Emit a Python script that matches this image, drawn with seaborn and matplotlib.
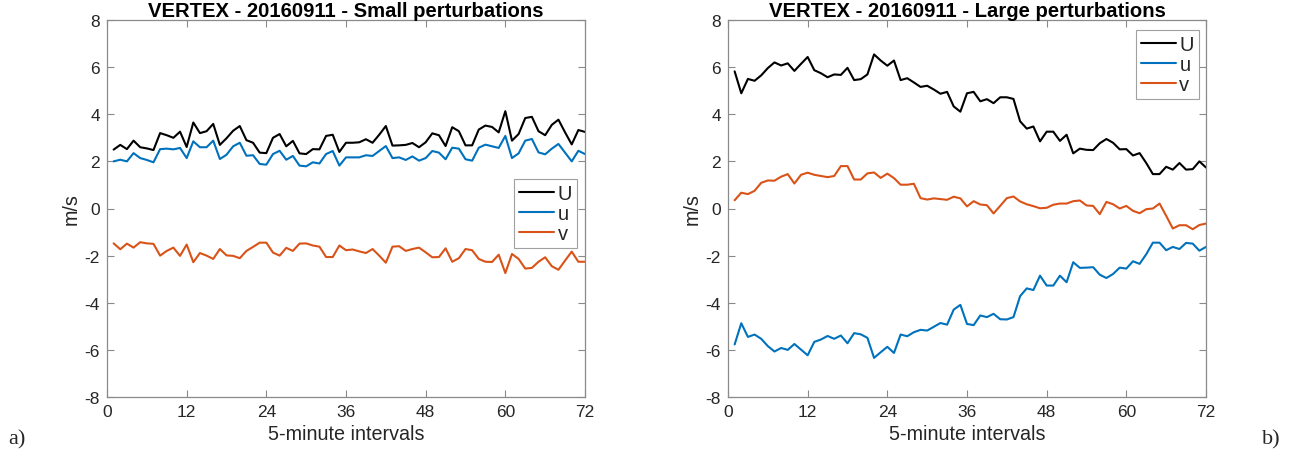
import numpy as np
import pandas as pd
import matplotlib
matplotlib.use("Agg")
import matplotlib.pyplot as plt
import seaborn as sns

# ---- data ----
intervals = list(range(1, 73))

small_U = [2.50,2.70,2.52,2.88,2.60,2.55,2.48,3.20,3.11,3.00,
           3.26,2.61,3.65,3.20,3.28,3.59,2.70,2.98,3.30,3.50,
           2.90,2.79,2.37,2.35,3.00,3.16,2.64,2.87,2.34,2.31,
           2.52,2.51,3.08,3.13,2.40,2.79,2.79,2.81,2.94,2.79,
           3.13,3.50,2.67,2.68,2.70,2.78,2.60,2.81,3.19,3.11,
           2.65,3.45,3.28,2.68,2.68,3.35,3.52,3.46,3.23,4.13,
           2.88,3.16,3.84,3.89,3.28,3.11,3.55,3.77,3.23,2.72,
           3.33,3.25]
small_u = [2.00,2.07,2.00,2.35,2.14,2.06,1.96,2.52,2.54,2.51,
           2.57,2.14,2.85,2.60,2.60,2.88,2.10,2.28,2.64,2.79,
           2.24,2.26,1.89,1.86,2.31,2.45,2.07,2.23,1.82,1.79,
           1.96,1.91,2.31,2.44,1.82,2.17,2.17,2.17,2.26,2.23,
           2.44,2.65,2.14,2.17,2.06,2.21,2.03,2.14,2.44,2.37,
           2.09,2.58,2.54,2.09,2.03,2.58,2.71,2.64,2.57,3.08,
           2.14,2.34,2.88,2.95,2.38,2.30,2.54,2.74,2.37,2.00,
           2.45,2.31]
small_v = [-1.48,-1.73,-1.49,-1.66,-1.43,-1.48,-1.50,-2.00,-1.80,-1.66,
           -2.01,-1.53,-2.28,-1.89,-2.00,-2.14,-1.72,-1.99,-2.01,-2.11,
           -1.80,-1.63,-1.45,-1.45,-1.87,-2.00,-1.67,-1.80,-1.49,-1.48,
           -1.57,-1.62,-2.06,-2.06,-1.57,-1.77,-1.74,-1.82,-1.89,-1.72,
           -2.00,-2.30,-1.62,-1.60,-1.80,-1.72,-1.66,-1.86,-2.07,-2.06,
           -1.69,-2.26,-2.11,-1.72,-1.77,-2.14,-2.26,-2.27,-1.96,-2.74,
           -1.93,-2.14,-2.55,-2.52,-2.26,-2.07,-2.45,-2.60,-2.21,-1.83,
           -2.26,-2.26]

large_U = [5.82,4.89,5.50,5.42,5.65,5.96,6.20,6.07,6.16,5.84,
           6.14,6.43,5.87,5.74,5.57,5.69,5.67,5.97,5.45,5.49,
           5.69,6.54,6.28,6.06,6.28,5.45,5.53,5.35,5.16,5.21,
           5.05,4.87,4.95,4.33,4.11,4.89,4.95,4.55,4.64,4.47,
           4.72,4.72,4.65,3.70,3.39,3.48,2.85,3.26,3.26,2.87,
           3.13,2.34,2.54,2.49,2.48,2.77,2.95,2.79,2.51,2.52,
           2.25,2.35,1.93,1.46,1.46,1.77,1.65,1.93,1.65,1.67,
           2.00,1.74]
large_u = [-5.77,-4.87,-5.45,-5.35,-5.53,-5.84,-6.07,-5.92,-6.00,-5.75,
           -5.99,-6.23,-5.66,-5.56,-5.41,-5.53,-5.39,-5.72,-5.29,-5.34,
           -5.49,-6.34,-6.10,-5.87,-6.13,-5.35,-5.42,-5.25,-5.15,-5.18,
           -5.02,-4.86,-4.93,-4.29,-4.09,-4.90,-4.95,-4.54,-4.61,-4.47,
           -4.70,-4.71,-4.61,-3.72,-3.39,-3.46,-2.85,-3.27,-3.27,-2.85,
           -3.13,-2.28,-2.52,-2.51,-2.49,-2.81,-2.95,-2.78,-2.51,-2.55,
           -2.24,-2.35,-1.94,-1.45,-1.45,-1.77,-1.63,-1.72,-1.46,-1.49,
           -1.79,-1.63]
large_v = [0.35,0.67,0.61,0.75,1.09,1.19,1.18,1.35,1.46,1.06,
           1.43,1.52,1.43,1.38,1.33,1.38,1.80,1.80,1.23,1.23,
           1.49,1.53,1.30,1.48,1.29,1.01,1.01,1.05,0.44,0.38,
           0.43,0.40,0.37,0.50,0.43,0.09,0.31,0.17,0.14,-0.21,
           0.11,0.44,0.51,0.30,0.18,0.10,0.01,0.03,0.16,0.21,
           0.21,0.31,0.34,0.13,0.11,-0.24,0.28,0.18,0.00,0.11,
           -0.10,-0.20,-0.03,0.00,0.21,-0.31,-0.85,-0.71,-0.71,-0.88,
           -0.70,-0.64]

series_names = ["U", "u", "v"]
series_colors = ["#000000", "#0072BD", "#D95319"]
titles = ["VERTEX - 20160911 - Small perturbations",
          "VERTEX - 20160911 - Large perturbations"]
x_ticks = [0, 12, 24, 36, 48, 60, 72]
y_ticks = [-8, -6, -4, -2, 0, 2, 4, 6, 8]
panel_labels = ["a)", "b)"]

# ---- style ----
sns.set_style("white")
plt.rcParams['font.family'] = ['Liberation Sans', 'DejaVu Sans']
plt.rcParams['axes.unicode_minus'] = False

fig = plt.figure(figsize=(12.96, 4.6), dpi=100)
ax_pos = [[107/1296, 62/460, 478/1296, 377/460],
          [728/1296, 62/460, 478/1296, 377/460]]
panels = [(small_U, small_u, small_v), (large_U, large_u, large_v)]
legend_locs = [dict(loc="center right", bbox_to_anchor=(0.983, 0.487)),
               dict(loc="upper right", bbox_to_anchor=(0.985, 0.974))]

for k in range(2):
    ax = fig.add_axes(ax_pos[k])
    df = pd.DataFrame({"x": intervals * 3,
                       "value": list(panels[k][0]) + list(panels[k][1]) + list(panels[k][2]),
                       "series": sum([[n] * len(intervals) for n in series_names], [])})
    sns.lineplot(data=df, x="x", y="value", hue="series", hue_order=series_names,
                 palette=dict(zip(series_names, series_colors)), linewidth=1.5, ax=ax)
    ax.set_xlim(0, 72)
    ax.set_ylim(-8, 8)
    ax.set_xticks(x_ticks)
    ax.set_yticks(y_ticks)
    ax.tick_params(direction="in", length=5, width=0.8, colors="#8a8a8a",
                   labelcolor="#262626", labelsize=12.5, top=True, right=True,
                   bottom=True, left=True, pad=5)
    for s in ax.spines.values():
        s.set_color("#8a8a8a")
        s.set_linewidth(0.9)
        s.set_visible(True)
    ax.set_xlabel("5-minute intervals", fontsize=14.2, color="#262626", labelpad=4)
    ax.set_ylabel("m/s", fontsize=14.2, color="#262626", labelpad=3)
    ax.set_title(titles[k], fontsize=14.6, fontweight="bold", color="#000000", pad=3)
    leg = ax.legend(title=None, fontsize=14.5, frameon=True, fancybox=False,
                    handlelength=1.75, handletextpad=0.15, borderpad=0.25,
                    labelspacing=0.05, borderaxespad=0, **legend_locs[k])
    leg.get_frame().set_edgecolor("#8a8a8a")
    leg.get_frame().set_linewidth(0.8)
    for line in leg.get_lines():
        line.set_linewidth(1.5)

fig.text(8/1296, 1 - 440/460, panel_labels[0], fontsize=16,
         family=['Liberation Serif', 'DejaVu Serif'], va="center", ha="left")
fig.text(1262/1296, 1 - 440/460, panel_labels[1], fontsize=16,
         family=['Liberation Serif', 'DejaVu Serif'], va="center", ha="left")

fig.savefig("out.png", dpi=100, facecolor="white")
